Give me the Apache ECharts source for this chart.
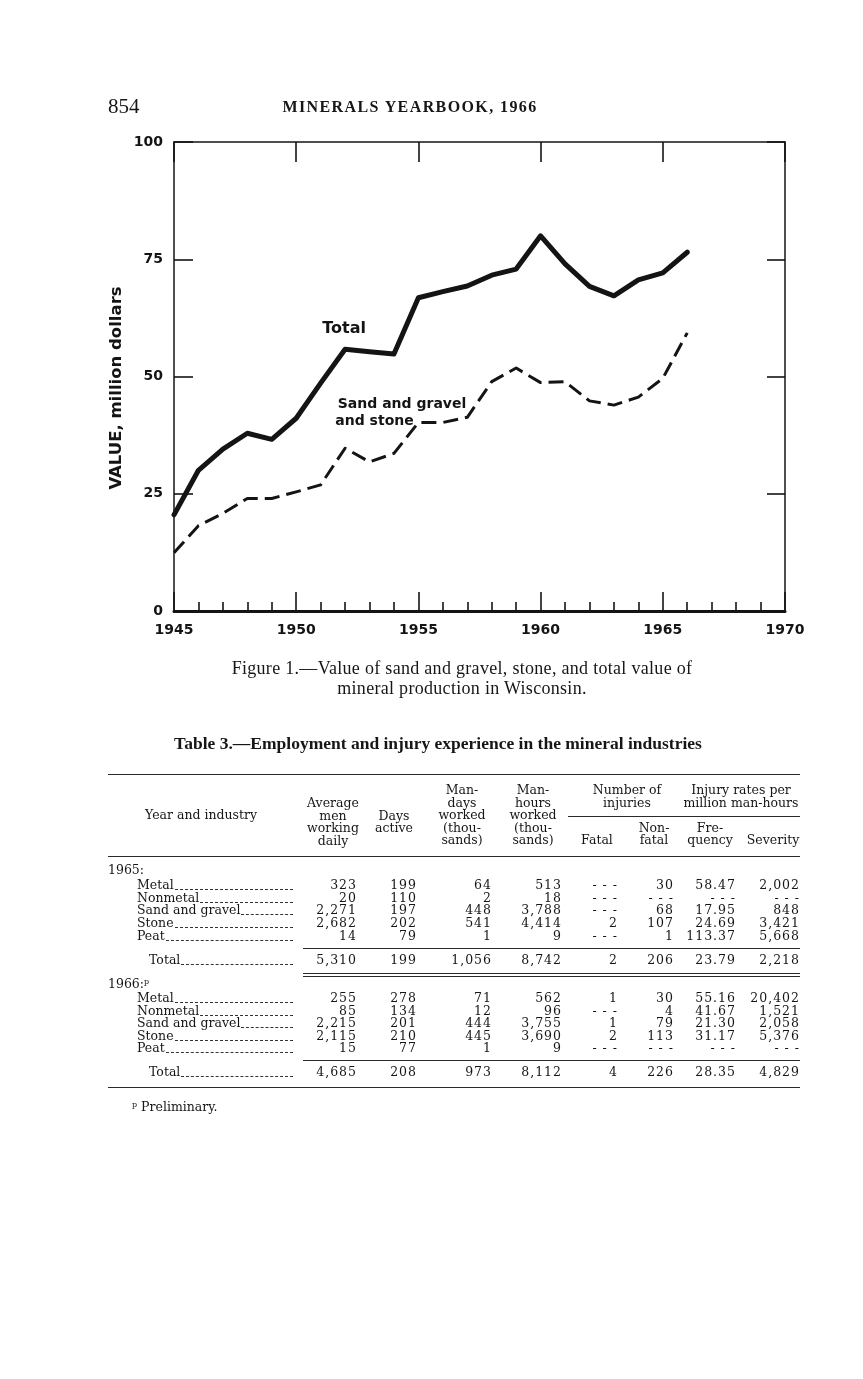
<!DOCTYPE html>
<html><head><meta charset="utf-8">
<script src="https://cdn.jsdelivr.net/npm/echarts@6/dist/echarts.min.js"></script>
<style>
html,body{margin:0;padding:0;background:#fff;}
#page{position:relative;width:863px;height:1379px;overflow:hidden;background:#fff;color:#161616;}
#chart{position:absolute;left:0;top:0;width:863px;height:1379px;}
.t{position:absolute;white-space:nowrap;line-height:1;}
.sf{font-family:"Liberation Serif","Times New Roman",serif;}
.tb{font-family:"DejaVu Serif",serif;font-size:12.5px;}
.num{letter-spacing:1px;}
.rule{position:absolute;height:0;border-top:1px solid #2a2a2a;}
.lead{position:absolute;height:0;border-top:1px dashed #333;}
sup{font-size:8px;vertical-align:4px;}
</style></head>
<body><div id="page"><div id="chart"></div></div>
<script>
// ---------- chart data ----------
const years = [1945,1946,1947,1948,1949,1950,1951,1952,1953,1954,1955,1956,1957,1958,1959,1960,1961,1962,1963,1964,1965,1966];
const totalValue = [20.5,30.0,34.5,37.9,36.6,41.1,48.6,55.8,55.3,54.8,66.8,68.1,69.3,71.6,72.9,80.0,74.0,69.2,67.2,70.6,72.1,76.5];
const sandGravelStoneValue = [12.4,18.2,20.8,24.0,24.0,25.4,26.9,34.7,31.8,33.6,40.2,40.2,41.3,48.9,51.8,48.7,48.9,44.8,43.9,45.6,49.6,59.3];
const yTicks = [0,25,50,75,100];
const xTicks = [1945,1950,1955,1960,1965,1970];

// ---------- table data ----------
const industries = ["Metal","Nonmetal","Sand and gravel","Stone","Peat"];
const menDaily1965 = ["323","20","2,271","2,682","14","5,310"];
const daysActive1965 = ["199","110","197","202","79","199"];
const manDays1965 = ["64","2","448","541","1","1,056"];
const manHours1965 = ["513","18","3,788","4,414","9","8,742"];
const fatal1965 = ["---","---","---","2","---","2"];
const nonFatal1965 = ["30","---","68","107","1","206"];
const frequency1965 = ["58.47","---","17.95","24.69","113.37","23.79"];
const severity1965 = ["2,002","---","848","3,421","5,668","2,218"];
const menDaily1966 = ["255","85","2,215","2,115","15","4,685"];
const daysActive1966 = ["278","134","201","210","77","208"];
const manDays1966 = ["71","12","444","445","1","973"];
const manHours1966 = ["562","96","3,755","3,690","9","8,112"];
const fatal1966 = ["1","---","1","2","---","4"];
const nonFatal1966 = ["30","4","79","113","---","226"];
const frequency1966 = ["55.16","41.67","21.30","31.17","---","28.35"];
const severity1966 = ["20,402","1,521","2,058","5,376","---","4,829"];

// ---------- page text helpers ----------
const page = document.getElementById('page');
function txt(html, x, yc, fs, align, cls, extra){
  const d = document.createElement('div');
  d.className = 't ' + (cls||'');
  d.innerHTML = html;
  d.style.fontSize = fs + 'px';
  d.style.top = (yc - 0.52*fs) + 'px';
  if(align === 'right'){ d.style.right = (863 - x) + 'px'; }
  else if(align === 'center'){ d.style.left = (x - 300) + 'px'; d.style.width = '600px'; d.style.textAlign = 'center'; }
  else { d.style.left = x + 'px'; }
  if(extra) Object.assign(d.style, extra);
  page.appendChild(d);
  return d;
}
function rule(x1, x2, y, cls){
  const d = document.createElement('div');
  d.className = cls || 'rule';
  d.style.left = x1 + 'px'; d.style.width = (x2 - x1) + 'px'; d.style.top = y + 'px';
  page.appendChild(d);
}

// header
txt('854', 108, 107, 21, 'left', 'sf');
txt('MINERALS YEARBOOK, 1966', 410, 107, 16, 'center', 'sf', {fontWeight:'bold', letterSpacing:'1.4px'});
// caption
txt('Figure 1.—Value of sand and gravel, stone, and total value of', 462, 668, 18, 'center', 'sf', {letterSpacing:'0.3px'});
txt('mineral production in Wisconsin.', 462, 688, 18, 'center', 'sf', {letterSpacing:'0.3px'});
// table title
txt('Table 3.—Employment and injury experience in the mineral industries', 438, 744, 17.5, 'center', 'sf', {fontWeight:'bold'});

// table header
const FS = 12.5;
rule(108, 800, 774);
txt('Year and industry', 201, 815, FS, 'center', 'tb');
[['Average',803],['men',816],['working',828],['daily',841]].forEach(a=>txt(a[0],333,a[1],FS,'center','tb'));
[['Days',816],['active',828]].forEach(a=>txt(a[0],394,a[1],FS,'center','tb'));
[['Man-',790],['days',803],['worked',815],['(thou-',828],['sands)',840]].forEach(a=>txt(a[0],462,a[1],FS,'center','tb'));
[['Man-',790],['hours',803],['worked',815],['(thou-',828],['sands)',840]].forEach(a=>txt(a[0],533,a[1],FS,'center','tb'));
[['Number of',790],['injuries',803]].forEach(a=>txt(a[0],627,a[1],FS,'center','tb'));
[['Injury rates per',790],['million man-hours',803]].forEach(a=>txt(a[0],741,a[1],FS,'center','tb'));
rule(568, 800, 816);
txt('Fatal', 597, 840, FS, 'center', 'tb');
[['Non-',828],['fatal',840]].forEach(a=>txt(a[0],654,a[1],FS,'center','tb'));
[['Fre-',828],['quency',840]].forEach(a=>txt(a[0],710,a[1],FS,'center','tb'));
txt('Severity', 773, 840, FS, 'center', 'tb');
rule(108, 800, 856);

const colRight = [357, 417, 492, 562, 618, 674, 736, 800];
function block(yearLabel, yHead, rowYs, totalY, cols){
  txt(yearLabel, 108, yHead, FS, 'left', 'tb');
  industries.forEach((name, i)=>{
    const lab = txt(name, 137, rowYs[i], FS, 'left', 'tb');
    const w = lab.getBoundingClientRect().width;
    rule(137 + w + 1, 293, rowYs[i] + 4, 'lead');
    cols.forEach((col, c)=>{
      const v = col[i] === '---' ? '- - -' : col[i];
      txt(v, colRight[c], rowYs[i], FS, 'right', 'tb num');
    });
  });
  const tl = txt('Total', 149, totalY, FS, 'left', 'tb');
  rule(149 + tl.getBoundingClientRect().width + 1, 293, totalY + 4, 'lead');
  cols.forEach((col, c)=>{
    txt(col[5], colRight[c], totalY, FS, 'right', 'tb num');
  });
}
block('1965:', 870, [885, 898, 910, 923, 936], 960,
  [menDaily1965, daysActive1965, manDays1965, manHours1965, fatal1965, nonFatal1965, frequency1965, severity1965]);
rule(303, 800, 948);
rule(303, 800, 973);
rule(303, 800, 976);
block('1966:<sup>p</sup>', 984, [998, 1011, 1023, 1036, 1048], 1072,
  [menDaily1966, daysActive1966, manDays1966, manHours1966, fatal1966, nonFatal1966, frequency1966, severity1966]);
rule(303, 800, 1060);
rule(108, 800, 1087);
txt('<sup>p</sup> Preliminary.', 132, 1107, FS, 'left', 'tb');

// ---------- chart ----------
const ink = '#141414';
const axisFont = {fontFamily:'DejaVu Sans', fontWeight:'bold', fontSize:14, color:ink};
const chart = echarts.init(document.getElementById('chart'));
chart.setOption({
  animation:false,
  backgroundColor:'transparent',
  grid:{left:174, top:142, width:611, height:469},
  xAxis:[
    {type:'value', position:'bottom', min:xTicks[0], max:xTicks[xTicks.length-1], interval:5,
     axisLine:{show:true, onZero:false, lineStyle:{color:ink, width:3}},
     axisTick:{show:true, inside:true, length:19, lineStyle:{color:ink, width:1.6}},
     minorTick:{show:true, splitNumber:5, length:9, lineStyle:{color:ink, width:1.6}},
     axisLabel:Object.assign({margin:12, formatter:v=>String(v)}, axisFont),
     splitLine:{show:false}},
    {type:'value', position:'top', min:xTicks[0], max:xTicks[xTicks.length-1], interval:5,
     axisLine:{show:true, onZero:false, lineStyle:{color:ink, width:1.5}},
     axisTick:{show:true, inside:true, length:20, lineStyle:{color:ink, width:1.6}},
     axisLabel:{show:false}, splitLine:{show:false}}
  ],
  yAxis:[
    {type:'value', position:'left', min:yTicks[0], max:yTicks[yTicks.length-1], interval:25,
     axisLine:{show:true, onZero:false, lineStyle:{color:ink, width:1.5}},
     axisTick:{show:true, inside:true, length:19, lineStyle:{color:ink, width:1.6}},
     axisLabel:Object.assign({margin:11}, axisFont),
     splitLine:{show:false}},
    {type:'value', position:'right', min:yTicks[0], max:yTicks[yTicks.length-1], interval:25,
     axisLine:{show:true, onZero:false, lineStyle:{color:ink, width:1.5}},
     axisTick:{show:true, inside:true, length:18, lineStyle:{color:ink, width:1.6}},
     axisLabel:{show:false}, splitLine:{show:false}}
  ],
  series:[
    {type:'line', name:'Total', xAxisIndex:0, yAxisIndex:0,
     data:years.map((y,i)=>[y,totalValue[i]]), symbol:'none',
     lineStyle:{color:ink, width:5, join:'round', cap:'round'}},
    {type:'line', name:'Sand and gravel and stone', xAxisIndex:0, yAxisIndex:0,
     data:years.map((y,i)=>[y,sandGravelStoneValue[i]]), symbol:'none',
     lineStyle:{color:ink, width:3, type:[15,7], join:'round'}}
  ]
});
const annFont = 'bold 14px "DejaVu Sans"';
const pTotal = chart.convertToPixel({xAxisIndex:0, yAxisIndex:0}, [1951.96, 60.1]);
const pSand1 = chart.convertToPixel({xAxisIndex:0, yAxisIndex:0}, [1951.7, 44.1]);
const pSand2 = chart.convertToPixel({xAxisIndex:0, yAxisIndex:0}, [1951.6, 40.5]);
chart.setOption({graphic:[
  {type:'text', x:117, y:388, rotation:Math.PI/2,
   style:{text:'VALUE, million dollars', font:'bold 16.5px "DejaVu Sans"', fill:ink, align:'center', verticalAlign:'middle'}},
  {type:'text', x:pTotal[0], y:pTotal[1], style:{text:'Total', font:'bold 16px "DejaVu Sans"', fill:ink, align:'center', verticalAlign:'middle'}},
  {type:'text', x:pSand1[0], y:pSand1[1], style:{text:'Sand and gravel', font:annFont, fill:ink, align:'left', verticalAlign:'middle'}},
  {type:'text', x:pSand2[0], y:pSand2[1], style:{text:'and stone', font:annFont, fill:ink, align:'left', verticalAlign:'middle'}}
]});
</script>
</body></html>
